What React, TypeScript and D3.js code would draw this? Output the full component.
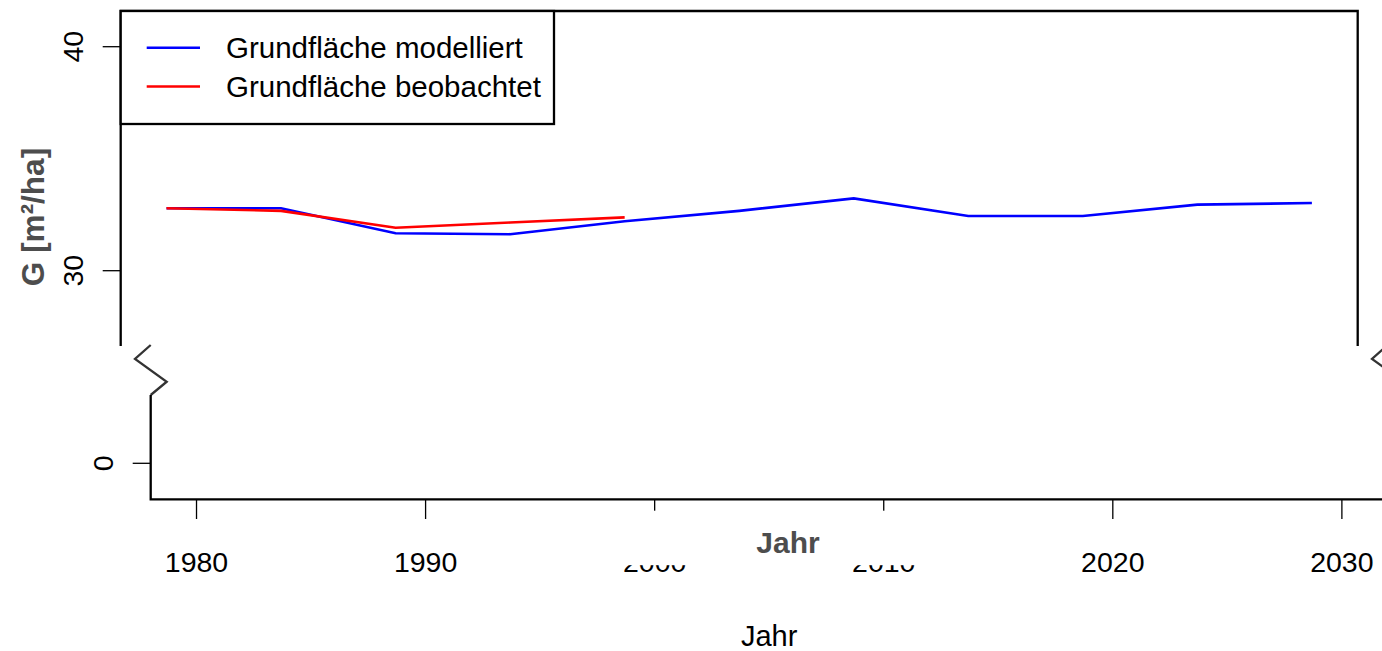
import React from "react";
import * as d3 from "d3";

const years = [1980, 1985, 1990, 1995, 2000, 2005, 2010, 2015, 2020, 2025, 2030];
const modelled = [32.79, 32.79, 31.67, 31.63, 32.21, 32.67, 33.23, 32.44, 32.44, 32.95, 33.02];
const obsYears = [1980, 1985, 1990, 1995, 2000];
const observed = [32.79, 32.67, 31.92, 32.15, 32.38];
const xTicks = [1980, 1990, 2000, 2010, 2020, 2030];
const yTicksUpper = [30, 40];
const yTicksLower = [0];
const legendLabels = ["Grundfläche modelliert", "Grundfläche beobachtet"];
const legendColors = ["#0000FF", "#FF0000"];

const W = 1382;
const H = 651;
const FONT = "'Liberation Sans', Arial, sans-serif";

export default function App() {
  // upper panel
  const upL = 120.7, upR = 1357.7, upT = 11, upB = 346;
  const xUp = d3.scaleLinear().domain([1978, 2032]).range([upL, upR]);
  const yUp = d3.scaleLinear().domain([30, 40]).range([270.7, 46.7]);
  // lower panel (shifted 30px right)
  const shift = 30;
  const loL = upL + shift, loR = upR + shift, loTop = 395, loB = 499.3;
  const xLo = d3.scaleLinear().domain([1978, 2032]).range([loL, loR]);
  const yLo = d3.scaleLinear().domain([0, 10]).range([463.3, 239.3]);

  const line = d3
    .line<[number, number]>()
    .x((d) => xUp(d[0]))
    .y((d) => yUp(d[1]));
  const modPath = line(years.map((y, i) => [y, modelled[i]]) as [number, number][]) || "";
  const obsPath = line(obsYears.map((y, i) => [y, observed[i]]) as [number, number][]) || "";

  const zig = (x0: number) =>
    `M${x0},345 L${x0 - 15.7},359 L${x0 + 16},381.7 L${x0},395`;

  const tickLabelSize = 28.5;

  return (
    <svg
      width={W}
      height={H}
      style={{ position: "absolute", left: 0, top: 0, display: "block", background: "#fff" }}
      fontFamily={FONT}
    >
      <rect x={0} y={0} width={W} height={H} fill="#fff" />

      {/* upper panel border (no bottom) */}
      <path
        d={`M${upL},${upB} L${upL},${upT} L${upR},${upT} L${upR},${upB}`}
        fill="none"
        stroke="#000"
        strokeWidth={2.3}
      />

      {/* upper y ticks */}
      {yTicksUpper.map((t) => (
        <g key={"yu" + t}>
          <line x1={upL - 18} x2={upL} y1={yUp(t)} y2={yUp(t)} stroke="#000" strokeWidth={1.3} />
          <text
            transform={`translate(83.3,${yUp(t)}) rotate(-90)`}
            textAnchor="middle"
            fontSize={tickLabelSize}
            fill="#000"
          >
            {t}
          </text>
        </g>
      ))}

      {/* data */}
      <path d={modPath} fill="none" stroke="#0000FF" strokeWidth={2.6} />
      <path d={obsPath} fill="none" stroke="#FF0000" strokeWidth={2.6} />

      {/* legend */}
      <rect x={upL} y={upT} width={554 - upL} height={124 - upT} fill="#fff" stroke="#000" strokeWidth={2.3} />
      {legendLabels.map((lab, i) => {
        const ly = [47.7, 86.5][i];
        return (
          <g key={lab}>
            <line x1={146.7} x2={200} y1={ly} y2={ly} stroke={legendColors[i]} strokeWidth={2.6} />
            <text x={226} y={ly + 10.5} fontSize={29.5} fill="#000">
              {lab}
            </text>
          </g>
        );
      })}

      {/* y axis title */}
      <text
        transform={`translate(44,217) rotate(-90)`}
        textAnchor="middle"
        fontSize={31.5}
        fontWeight="bold"
        fill="#4d4d4d"
      >
        G [m²/ha]
      </text>

      {/* lower panel */}
      <path d={zig(loL)} fill="none" stroke="#333" strokeWidth={2.3} />
      <path d={zig(loR)} fill="none" stroke="#333" strokeWidth={2.3} />
      <path
        d={`M${loL},${loTop} L${loL},${loB} L${loR},${loB} L${loR},${loTop}`}
        fill="none"
        stroke="#000"
        strokeWidth={2.3}
      />
      {yTicksLower.map((t) => (
        <g key={"yl" + t}>
          <line x1={loL - 18} x2={loL} y1={yLo(t)} y2={yLo(t)} stroke="#000" strokeWidth={1.3} />
          <text
            transform={`translate(112.7,${yLo(t)}) rotate(-90)`}
            textAnchor="middle"
            fontSize={tickLabelSize}
            fill="#000"
          >
            {t}
          </text>
        </g>
      ))}

      {/* x ticks */}
      {xTicks.map((t) => (
        <g key={"x" + t}>
          <line x1={xLo(t)} x2={xLo(t)} y1={loB} y2={519} stroke="#000" strokeWidth={1.3} />
          <text x={xLo(t)} y={571.7} textAnchor="middle" fontSize={tickLabelSize} fill="#000">
            {t}
          </text>
        </g>
      ))}

      {/* overlapping white box with bold title */}
      <rect x={560} y={510.7} width={420} height={54.5} fill="#fff" />
      <text x={788} y={552.7} textAnchor="middle" fontSize={30} fontWeight="bold" fill="#4d4d4d">
        Jahr
      </text>

      {/* bottom x title */}
      <text x={(loL + loR) / 2} y={646} textAnchor="middle" fontSize={29} fill="#000">
        Jahr
      </text>
    </svg>
  );
}
